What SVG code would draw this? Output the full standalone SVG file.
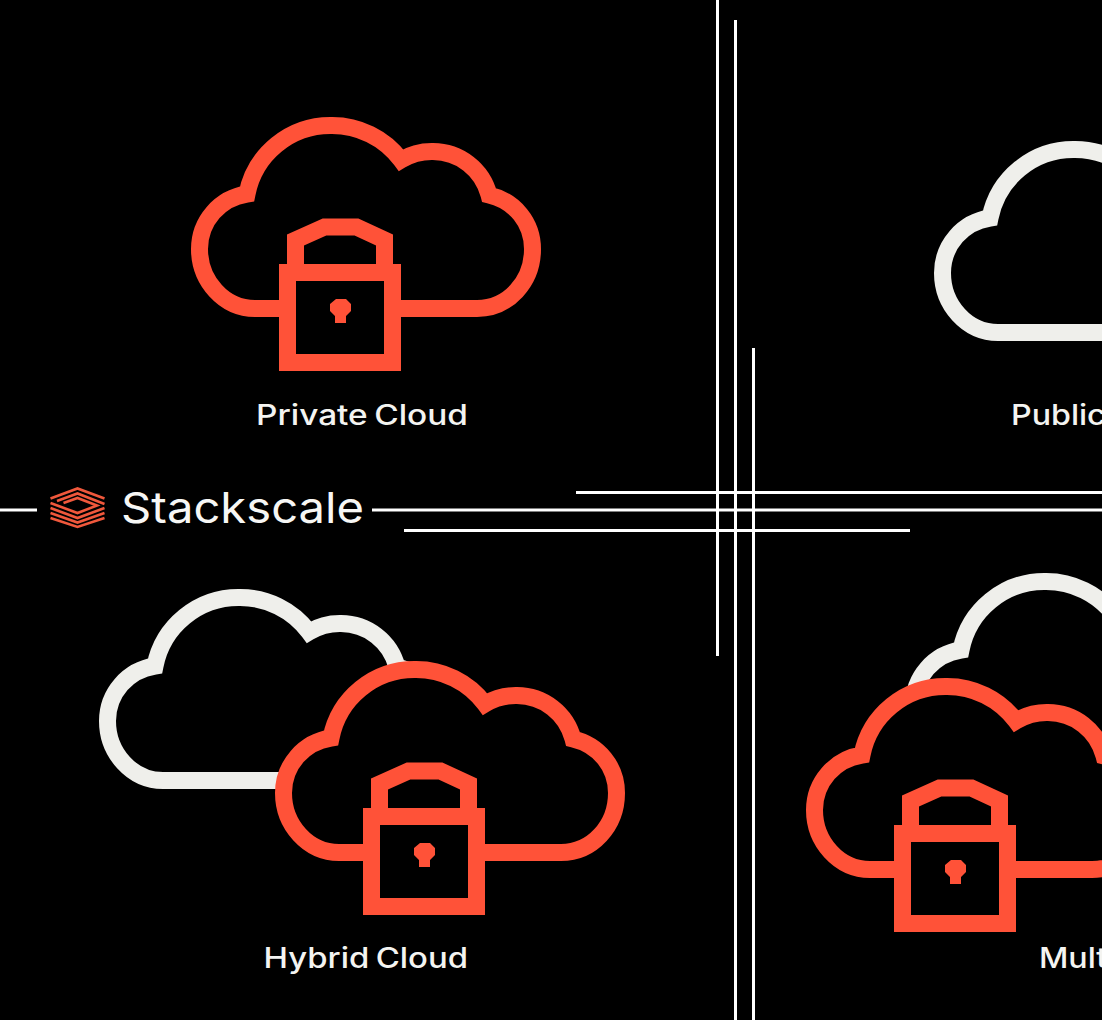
<svg xmlns="http://www.w3.org/2000/svg" width="1102" height="1020" viewBox="0 0 1102 1020">
  <style>
    .cw { fill: none; stroke: #EFEFEB; stroke-width: 17; stroke-linejoin: miter; stroke-miterlimit: 10; }
    .cr { fill: #000; stroke: #FF5238; stroke-width: 17; stroke-linejoin: miter; stroke-miterlimit: 10; }
    .lk { fill: none; stroke: #FF5238; stroke-width: 17; stroke-linejoin: miter; }
    .kh { fill: #FF5238; }
    .lb { font-family: "Inter", "Liberation Sans", sans-serif; font-weight: 500; font-size: 28px; fill: #F4F4F1; word-spacing: -2px; }
    .ln { stroke: #FFFFFF; stroke-width: 3; fill: none; }
    .lg { stroke: #F0583C; stroke-width: 2.6; fill: none; stroke-linejoin: miter; }
  </style>
  <defs>
    <path id="cloud" d="M255 308.5 C224 308.5 199.5 281 199.5 249 C199.5 221 220 198 247 194 A85 85 0 0 1 331 125.5 A86 86 0 0 1 401 160 A60 60 0 0 1 433 151.5 A58 58 0 0 1 489 195 C515 201 532.5 223 532.5 249 C532.5 282 508 308.5 477 308.5 Z"/>
    <g id="lock">
      <rect class="lk" x="287.5" y="272.5" width="105" height="90" style="fill:#000"/>
      <path class="lk" d="M295.5 264 V240 L324.5 227 H356.5 L384.5 240 V264"/>
      <path class="kh" d="M336 299 H346 L351 304 V311 L346 316 V323 H335 V316 L330 311 V304 Z"/>
    </g>
  </defs>
  <rect width="1102" height="1020" fill="#000"/>

  <g id="connectors">
    <path class="ln" d="M717.5 0 V656"/>
    <path class="ln" d="M735.5 20 V1020"/>
    <path class="ln" d="M753.5 348 V1020"/>
    <path class="ln" d="M576 492.5 H1102"/>
    <path class="ln" d="M0 510 H37"/>
    <path class="ln" d="M372 510 H1102"/>
    <path class="ln" d="M404 530.5 H910"/>
  </g>

  <g id="private-cloud">
    <use href="#cloud" class="cr"/>
    <use href="#lock"/>
    <text class="lb" x="256" y="424.5" textLength="212" lengthAdjust="spacingAndGlyphs">Private Cloud</text>
  </g>

  <g id="public-cloud">
    <use href="#cloud" class="cw" transform="translate(743 24)"/>
    <text class="lb" transform="translate(1011 424.5) scale(1.15 1)">Public</text>
  </g>

  <g id="hybrid-cloud">
    <use href="#cloud" class="cw" transform="translate(-92 472)"/>
    <use href="#cloud" class="cr" transform="translate(84 544)"/>
    <use href="#lock" transform="translate(84 544)"/>
    <text class="lb" x="263.5" y="967.5" textLength="204.5" lengthAdjust="spacingAndGlyphs">Hybrid Cloud</text>
  </g>

  <g id="multi-cloud">
    <use href="#cloud" class="cw" transform="translate(714 456)"/>
    <use href="#cloud" class="cr" transform="translate(615 561)"/>
    <use href="#lock" transform="translate(615 561)"/>
    <text class="lb" transform="translate(1039 967.5) scale(1.15 1)">Mult</text>
  </g>

  <g id="logo">
    <path class="lg" d="M50.5 498.5 L77.5 488.5 L104.5 498.5"/>
    <path class="lg" d="M57 501 L77.5 493.5 L104.5 504"/>
    <path class="lg" d="M63.5 503 L77.5 498 L97 505.5 L77.5 513 L50.5 503"/>
    <path class="lg" d="M50.5 508 L77.5 518 L104.5 508"/>
    <path class="lg" d="M50.5 513 L77.5 522.5 L104.5 513"/>
    <path class="lg" d="M50.5 518 L77.5 527 L104.5 518"/>
    <text x="121" y="523" font-family="Inter, 'Liberation Sans', sans-serif" font-size="43" font-weight="400" fill="#F7F7F5" textLength="243" lengthAdjust="spacingAndGlyphs">Stackscale</text>
  </g>
</svg>
